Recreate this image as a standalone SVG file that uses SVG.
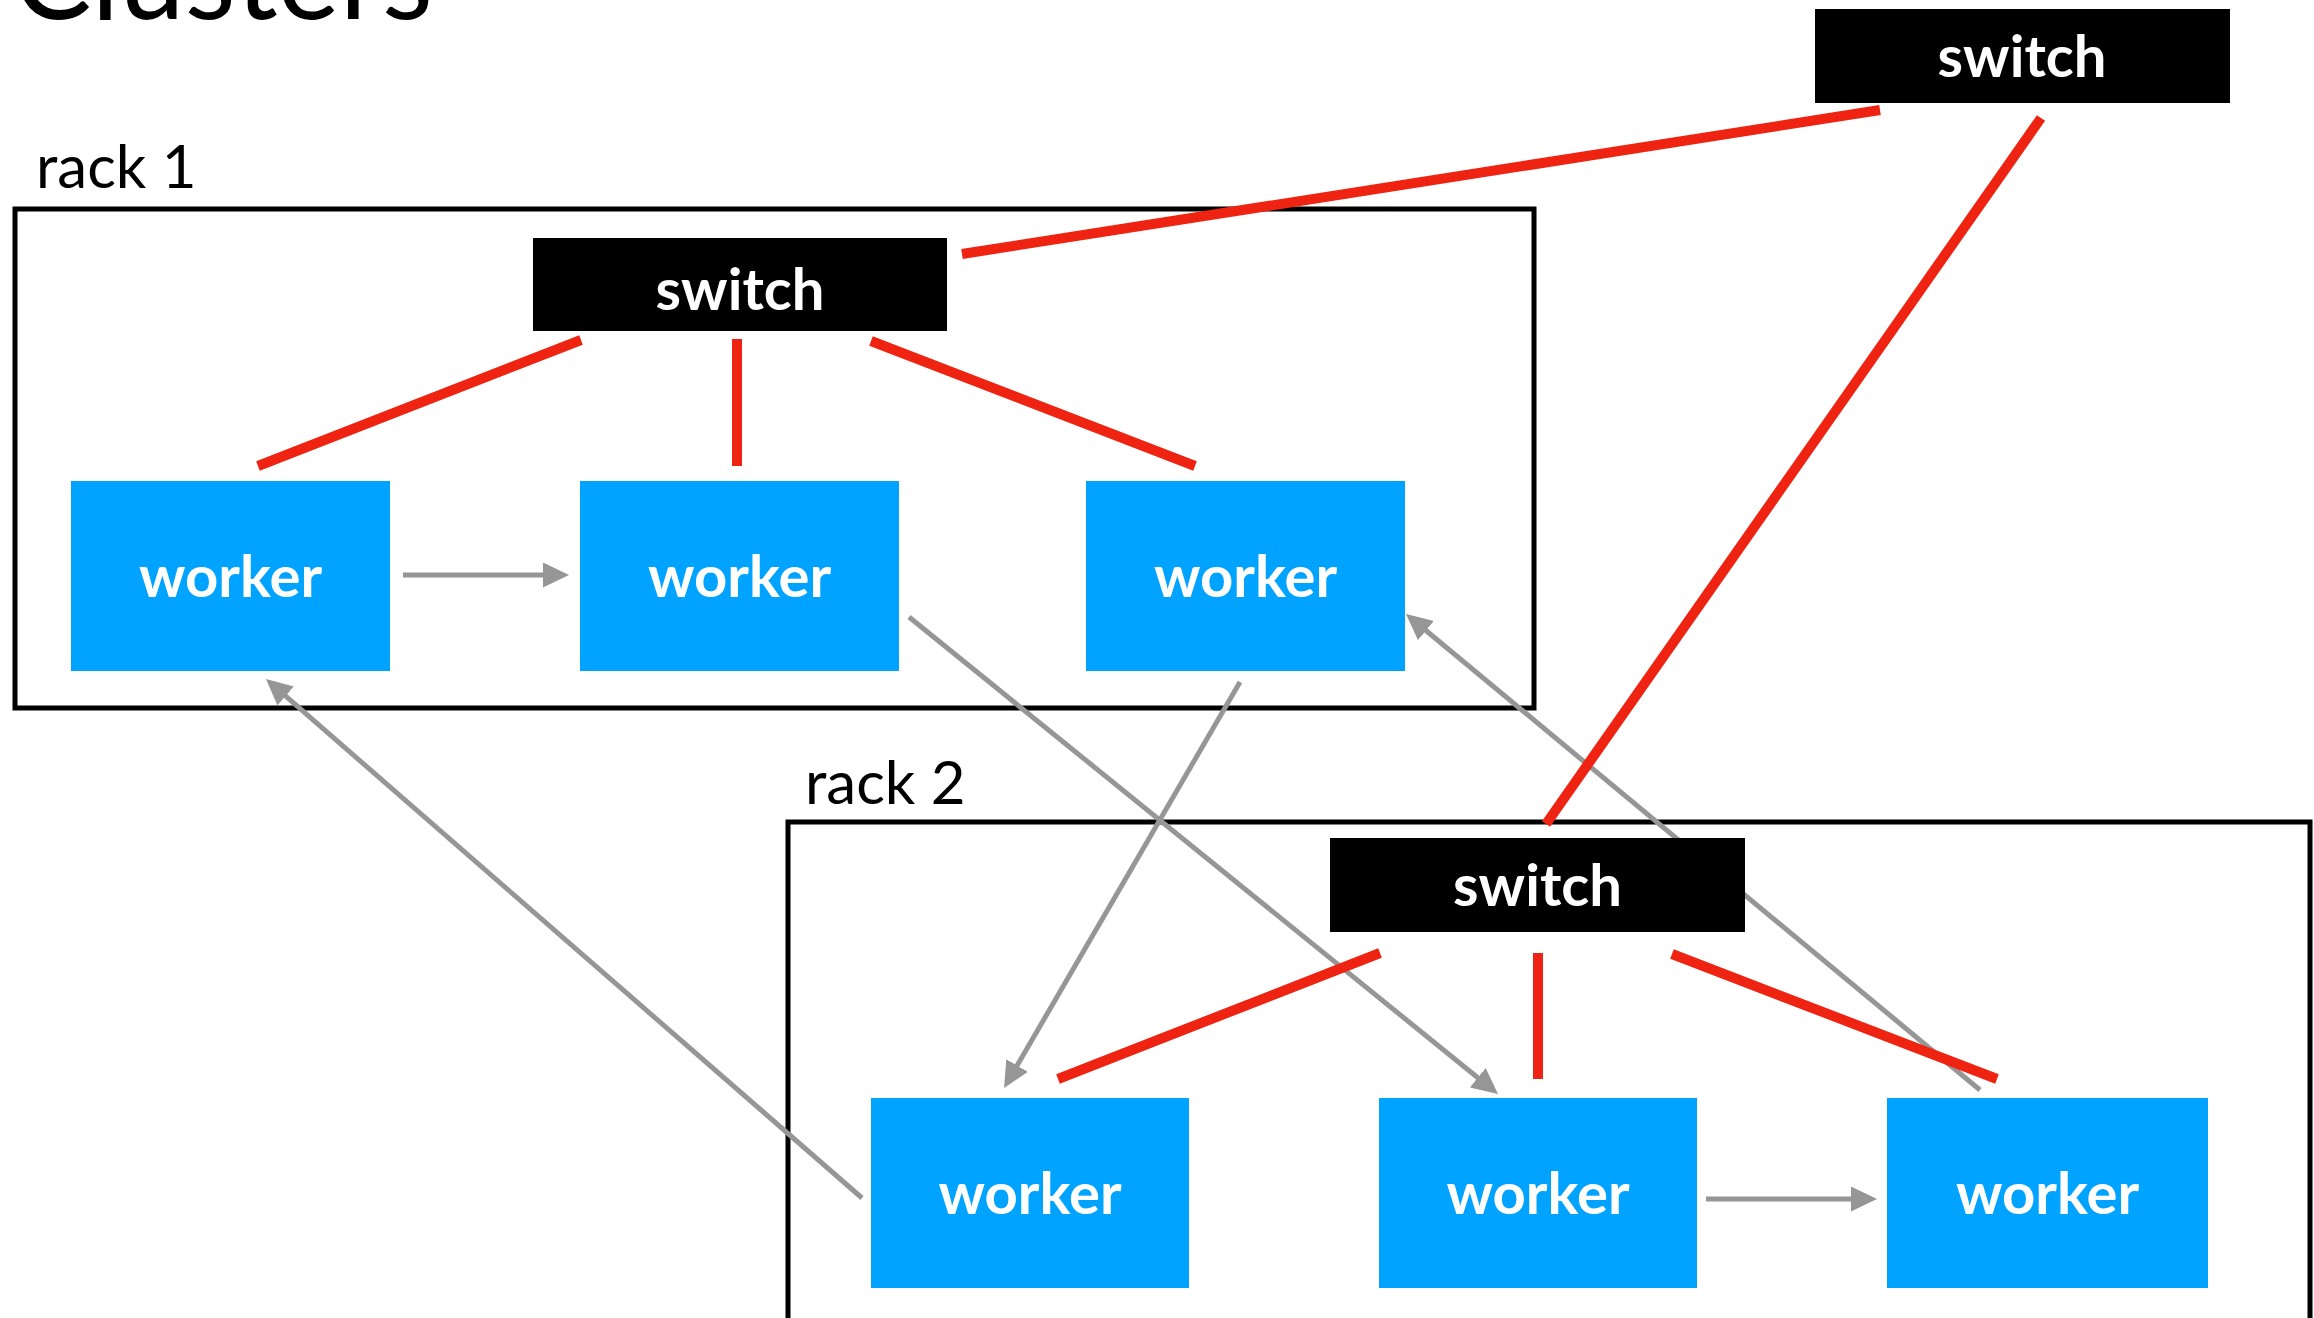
<svg xmlns="http://www.w3.org/2000/svg" width="2314" height="1318" viewBox="0 0 2314 1318">
<style>
.rack{fill:none;stroke:#000;stroke-width:5}
.sw{fill:#000}
.wk{fill:#00A3FF}
.lbl{font-family:Lato,"Open Sans","Liberation Sans",sans-serif;font-weight:700;font-size:58px;fill:#fff;text-anchor:middle}
.rl{font-family:Lato,"Open Sans","Liberation Sans",sans-serif;font-size:60px;fill:#000}
.red{stroke:#EE2311;stroke-width:10;fill:none}
.ga{stroke:#969696;stroke-width:5;fill:none;marker-end:url(#ah)}
</style>
<defs>
<marker id="ah" viewBox="0 0 26 25" refX="4" refY="12.5" markerWidth="26" markerHeight="25" markerUnits="userSpaceOnUse" orient="auto">
<path d="M0,0 L26,12.5 L0,25 Z" fill="#969696"/>
</marker>
</defs>
<rect width="2314" height="1318" fill="#fff"/>
<text x="13" y="19" class="rl" style="font-size:120px" textLength="420" lengthAdjust="spacingAndGlyphs">Clusters</text>
<g id="rack1">
<rect class="rack" x="15" y="209" width="1519" height="499"/>
<text class="rl" x="36" y="188">rack 1</text>
</g>
<g id="rack2">
<rect class="rack" x="788" y="822" width="1522" height="520"/>
<text class="rl" x="805" y="804">rack 2</text>
</g>
<g id="connectors-gray">
<line class="ga" x1="403" y1="575" x2="547" y2="575"/>
<line class="ga" x1="1706" y1="1199" x2="1855" y2="1199"/>
<line class="ga" x1="862" y1="1198" x2="282.6" y2="693.4"/>
<line class="ga" x1="909" y1="617" x2="1480.9" y2="1080.2"/>
<line class="ga" x1="1240" y1="682" x2="1015.1" y2="1069"/>
<line class="ga" x1="1980" y1="1090" x2="1422.9" y2="628"/>
</g>
<g id="switch-top"><rect class="sw" x="1815" y="9" width="415" height="94"/><text class="lbl" x="2022" y="77">switch</text></g>
<g id="switch-rack1"><rect class="sw" x="533" y="238" width="414" height="93"/><text class="lbl" x="740" y="310">switch</text></g>
<g id="switch-rack2"><rect class="sw" x="1330" y="838" width="415" height="94"/><text class="lbl" x="1537.5" y="906">switch</text></g>
<g id="worker-r1-1"><rect class="wk" x="71" y="481" width="319" height="190"/><text class="lbl" x="230.5" y="597">worker</text></g>
<g id="worker-r1-2"><rect class="wk" x="580" y="481" width="319" height="190"/><text class="lbl" x="739.5" y="597">worker</text></g>
<g id="worker-r1-3"><rect class="wk" x="1086" y="481" width="319" height="190"/><text class="lbl" x="1245.5" y="597">worker</text></g>
<g id="worker-r2-1"><rect class="wk" x="871" y="1098" width="318" height="190"/><text class="lbl" x="1030" y="1214">worker</text></g>
<g id="worker-r2-2"><rect class="wk" x="1379" y="1098" width="318" height="190"/><text class="lbl" x="1538" y="1214">worker</text></g>
<g id="worker-r2-3"><rect class="wk" x="1887" y="1098" width="321" height="190"/><text class="lbl" x="2047.5" y="1214">worker</text></g>
<g id="connectors-red">
<line class="red" x1="962" y1="254" x2="1880" y2="110"/>
<line class="red" x1="2041" y1="118" x2="1546" y2="824"/>
<line class="red" x1="581" y1="340" x2="258" y2="466"/>
<line class="red" x1="737" y1="339" x2="737" y2="466"/>
<line class="red" x1="871" y1="341" x2="1195" y2="466"/>
<line class="red" x1="1380" y1="953" x2="1058" y2="1079"/>
<line class="red" x1="1538" y1="953" x2="1538" y2="1079"/>
<line class="red" x1="1672" y1="954" x2="1997" y2="1079"/>
</g>
</svg>
